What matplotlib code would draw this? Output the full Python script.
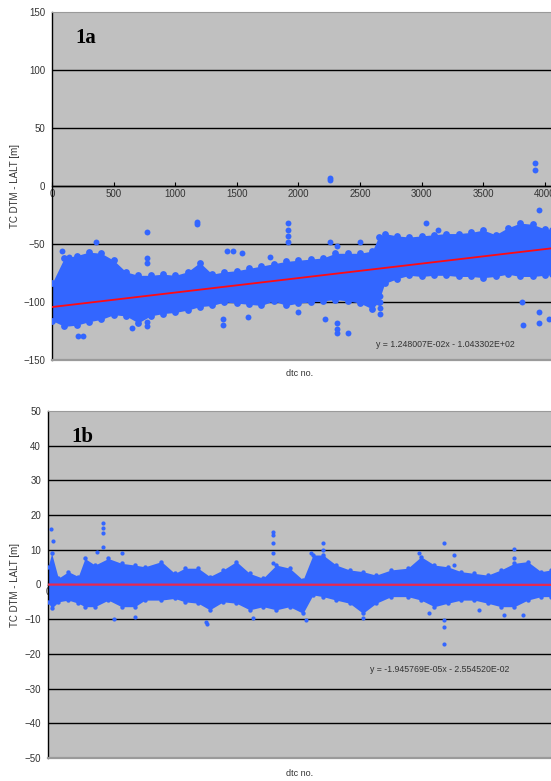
import matplotlib
matplotlib.use("Agg")
import matplotlib.pyplot as plt
import numpy as np

# ---------------- data: panel 1a ----------------
a_core_x = [0, 100, 200, 300, 400, 500, 600, 700, 800, 900, 1000, 1100, 1200, 1300,
            1400, 1500, 1600, 1700, 1800, 1900, 2000, 2100, 2200, 2300, 2400, 2500,
            2600, 2650, 2700, 2800, 2900, 3000, 3100, 3200, 3300, 3400, 3500, 3600,
            3700, 3800, 3900, 4000, 4060]
a_core_hi = [-84, -62, -60, -57, -58, -64, -74, -77, -77, -76, -77, -74, -66, -76,
             -74, -73, -71, -69, -67, -65, -64, -63, -62, -58, -58, -58,
             -56, -44, -41, -43, -44, -43, -42, -41, -41, -40, -38, -42,
             -36, -32, -33, -37, -38]
a_core_lo = [-116, -121, -120, -117, -115, -111, -112, -118, -112, -110, -109, -107, -104, -103,
             -100, -101, -102, -103, -99, -103, -101, -100, -99, -98, -99, -101,
             -106, -100, -84, -80, -77, -78, -77, -77, -78, -78, -79, -78,
             -76, -78, -78, -77, -76]
a_out_x = [81, 138, 357, 770, 770, 770, 1176, 1180, 1420, 1468, 1541, 1768, 1914, 1914,
           1914, 1914, 2254, 2255, 2255, 2311, 2497, 3033, 3130, 3917, 3917, 3950,
           211, 253, 649, 770, 770, 1387, 1387, 1590, 1995, 2214, 2311, 2311, 2311,
           2400, 2660, 2660, 2660, 2660, 3812, 3820, 3950, 3950, 4030]
a_out_y = [-56, -61, -48, -39.6, -62, -66, -31, -33, -56, -56, -58, -61, -32, -38,
           -43, -48, -48, 6.5, 5, -52, -48, -32, -38, 19.5, 14, -21,
           -129, -129, -122, -121, -117, -120, -115, -113, -109, -115, -118, -123, -127,
           -127, -95, -100, -105, -110, -100, -120, -109, -118, -115]
a_slope, a_icpt = 1.248007e-02, -1.043302e+02
a_eq = "y = 1.248007E-02x - 1.043302E+02"

# ---------------- data: panel 1b ----------------
b_core_x = [0, 29, 83, 163, 243, 296, 376, 483, 589, 696, 776, 909, 1016, 1096, 1203,
            1296, 1403, 1509, 1616, 1723, 1829, 1936, 2043, 2123, 2203, 2309, 2416,
            2523, 2629, 2749, 2883, 2989, 3096, 3203, 3309, 3416, 3523, 3629, 3736,
            3843, 3950, 4030]
b_core_hi = [5, 9.0, 1.8, 3.7, 2.3, 7.5, 5.6, 7.5, 6.1, 5.6, 5.1, 6.6, 3.2, 4.7, 4.7,
             2.3, 4.2, 6.6, 3.2, 1.8, 5.6, 4.7, 1.3, 8.5, 8.5, 5.6, 4.2,
             3.7, 2.7, 4.2, 4.7, 8.0, 5.6, 5.1, 3.7, 3.2, 2.7, 4.2, 6.1,
             6.6, 3.7, 4.2]
b_core_lo = [-5, -6.9, -5.0, -4.5, -5.4, -6.4, -6.4, -4.5, -6.4, -6.4, -4.5, -4.5, -4.0, -5.0, -5.4,
             -7.3, -5.0, -5.4, -7.3, -6.4, -7.3, -6.4, -8.3, -3.0, -3.5, -4.5, -5.4,
             -8.3, -5.4, -3.5, -3.5, -4.5, -6.4, -5.4, -4.5, -4.5, -5.4, -6.4, -6.4,
             -4.5, -3.5, -3.5]
b_out_x = [24, 43, 443, 443, 443, 443, 389, 589, 531, 696, 1269, 1275,
           1803, 1803, 1803, 1803, 1803, 2109, 2203, 2203, 2203, 1643, 2069, 2523,
           3176, 3176, 3176, 3176, 3736, 3736, 3256, 3256, 2976, 3056, 3456, 3656, 3803]
b_out_y = [15.9, 12.6, 17.6, 16.2, 14.7, 10.9, 9.5, 9.0, -10.0, -9.5, -10.7, -11.4,
           15.2, 14.3, 11.9, 9.0, 6.1, 9.0, 11.9, 10.0, 8.0, -9.7, -10.2, -9.7,
           12.1, -10.2, -12.2, -17.2, 10.1, 7.5, 8.5, 5.6, 9.0, -8.3, -7.3, -8.8, -8.8]
b_slope, b_icpt = -1.945769e-05, -2.554520e-02
b_eq = "y = -1.945769E-05x - 2.554520E-02"

xticks = [0, 500, 1000, 1500, 2000, 2500, 3000, 3500, 4000]
a_yticks = [-150, -100, -50, 0, 50, 100, 150]
b_yticks = [-50, -40, -30, -20, -10, 0, 10, 20, 30, 40, 50]

ylabel = "TC DTM - LALT [m]"
xlabel = "dtc no."

BLUE = "#3366ff"
GRAY = "#c0c0c0"
TXT = "#333333"

plt.rcParams['font.family'] = ['Liberation Sans', 'DejaVu Sans']

fig = plt.figure(figsize=(5.51, 7.81), dpi=100)


def panel(rect, xmax, ylim, yticks, cx, chi, clo, ox, oy, slope, icpt, eq, eqpos,
          tag, msize, esize, lcolor, lw):
    ax = fig.add_axes(rect)
    ax.set_facecolor(GRAY)
    ax.set_xlim(0, xmax)
    ax.set_ylim(*ylim)
    ax.set_yticks(yticks)
    ax.set_xticks(xticks)
    for v in yticks[1:-1]:
        ax.axhline(v, color="black", lw=1.0, zorder=1)
    ax.fill_between(cx, clo, chi, color=BLUE, lw=0, zorder=2)
    ax.scatter(cx, chi, s=esize, color=BLUE, lw=0, zorder=3)
    ax.scatter(cx, clo, s=esize, color=BLUE, lw=0, zorder=3)
    ax.scatter(ox, oy, s=msize, color=BLUE, lw=0, zorder=3)
    xl = np.array([0, xmax])
    ax.plot(xl, slope * xl + icpt, color=lcolor, lw=lw, zorder=4)
    ax.spines['right'].set_visible(False)
    ax.spines['top'].set_color('#9a9a9a')
    ax.spines['top'].set_linewidth(0.8)
    ax.spines['left'].set_color('black')
    ax.spines['left'].set_linewidth(1.0)
    ax.spines['bottom'].set_position(('data', 0))
    ax.spines['bottom'].set_color('black')
    ax.spines['bottom'].set_linewidth(1.0)
    ax.spines['bottom'].set_zorder(1)
    ax.axhline(ylim[0], color='#9a9a9a', lw=1.6, clip_on=False, zorder=5)
    ax.tick_params(axis='y', length=0, pad=5, labelsize=7, labelcolor=TXT)
    ax.tick_params(axis='x', direction='in', length=3, width=0.8, pad=2,
                   labelsize=7, labelcolor=TXT)
    ax.text(0.046, 0.955, tag, transform=ax.transAxes, fontsize=15,
            fontweight='bold', family=['Liberation Serif', 'DejaVu Serif'],
            va='top', ha='left', zorder=6)
    ax.text(eqpos[0], eqpos[1], eq, transform=ax.transAxes, fontsize=6.3,
            color=TXT, ha='center', va='center', zorder=6)
    return ax


ax1 = panel([52 / 551, 1 - 360 / 781, 1 - 52 / 551, 348 / 781], 4050, (-150, 150),
            a_yticks, a_core_x, a_core_hi, a_core_lo, a_out_x, a_out_y,
            a_slope, a_icpt, a_eq, ((445 - 52) / 499, 1 - (344 - 12) / 348), "1a",
            18, 24, "#ff0a14", 1.3)
ax2 = panel([48 / 551, 1 - 758 / 781, 1 - 48 / 551, 347 / 781], 4030, (-50, 50),
            b_yticks, b_core_x, b_core_hi, b_core_lo, b_out_x, b_out_y,
            b_slope, b_icpt, b_eq, ((440 - 48) / 503, 1 - (670 - 411) / 347), "1b",
            9, 10, "#e8284f", 1.6)

fig.text(15 / 551, 1 - 186 / 781, ylabel, rotation=90, ha='center', va='center',
         fontsize=7, color=TXT)
fig.text(15 / 551, 1 - 585 / 781, ylabel, rotation=90, ha='center', va='center',
         fontsize=7, color=TXT)
fig.text(300 / 551, 1 - 373 / 781, xlabel, ha='center', va='center', fontsize=6.5, color=TXT)
fig.text(300 / 551, 1 - 773 / 781, xlabel, ha='center', va='center', fontsize=6.5, color=TXT)

fig.savefig("out.png", dpi=100)
